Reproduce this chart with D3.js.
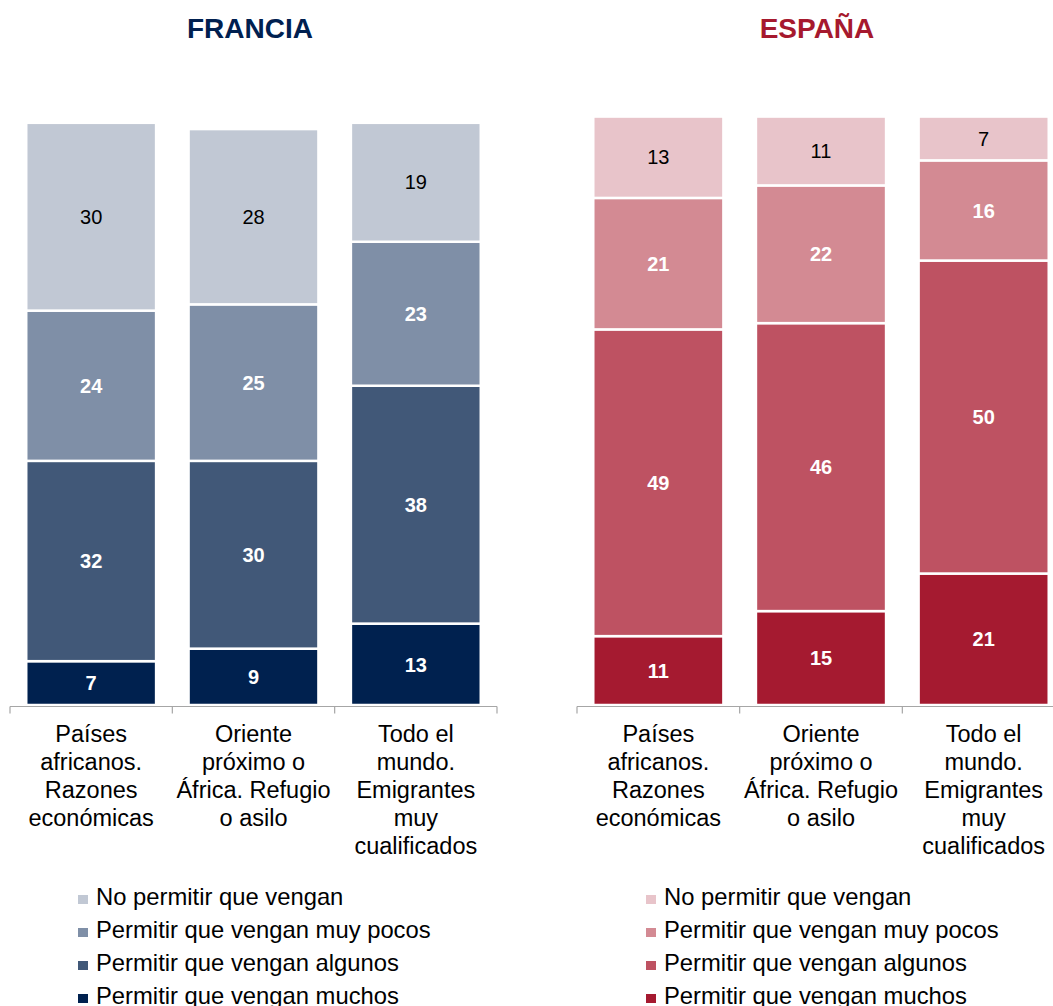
<!DOCTYPE html>
<html>
<head>
<meta charset="utf-8">
<script src="https://cdn.jsdelivr.net/npm/d3@7"></script>
<style>
  html, body { margin: 0; padding: 0; background: #fff; }
  svg { display: block; font-family: "Liberation Sans", Arial, sans-serif; }
</style>
</head>
<body>
<svg id="chart" width="1053" height="1006"></svg>
<script>
// Categories (multi-line axis labels)
const categories = ["africa_econ", "oriente_asilo", "mundo_cualif"];
const categoryLines = [
  ["Países", "africanos.", "Razones", "económicas"],
  ["Oriente", "próximo o", "África. Refugio", "o asilo"],
  ["Todo el", "mundo.", "Emigrantes", "muy", "cualificados"]
];

// Series, stacked from the bottom up
const seriesNames = [
  "Permitir que vengan muchos",
  "Permitir que vengan algunos",
  "Permitir que vengan muy pocos",
  "No permitir que vengan"
];

// Francia: percentages per series, one value per category
const franciaMuchos   = [7, 9, 13];
const franciaAlgunos  = [32, 30, 38];
const franciaMuyPocos = [24, 25, 23];
const franciaNo       = [30, 28, 19];

// España
const espanaMuchos   = [11, 15, 21];
const espanaAlgunos  = [49, 46, 50];
const espanaMuyPocos = [21, 22, 16];
const espanaNo       = [13, 11, 7];

const panels = [
  {
    title: "FRANCIA",
    titleColor: "#002050",
    series: [franciaMuchos, franciaAlgunos, franciaMuyPocos, franciaNo],
    colors: ["#00214f", "#415878", "#7f8fa7", "#c1c8d4"],
    labelColors: ["#fff", "#fff", "#fff", "#000"],
    labelWeights: ["bold", "bold", "bold", "normal"],
    x0: 10, x1: 497, titleX: 250, legendX: 78
  },
  {
    title: "ESPAÑA",
    titleColor: "#a6192e",
    series: [espanaMuchos, espanaAlgunos, espanaMuyPocos, espanaNo],
    colors: ["#a51a30", "#be5262", "#d38a93", "#e8c4ca"],
    labelColors: ["#fff", "#fff", "#fff", "#000"],
    labelWeights: ["bold", "bold", "bold", "normal"],
    x0: 577, x1: 1065, titleX: 817, legendX: 646
  }
];

const svg = d3.select("#chart");
const baseY = 705;
const y = d3.scaleLinear().domain([0, 100]).range([baseY, 79]);

panels.forEach(p => {
  const g = svg.append("g");

  // Title
  g.append("text")
    .attr("x", p.titleX).attr("y", 38)
    .attr("text-anchor", "middle")
    .attr("font-size", 28).attr("font-weight", "bold")
    .attr("fill", p.titleColor)
    .text(p.title);

  const x = d3.scaleBand()
    .domain(categories)
    .range([p.x0, p.x1])
    .paddingInner(0.2)
    .paddingOuter(0.1);

  // Build stacked rows
  const rows = categories.map((c, i) => {
    const r = { cat: c };
    seriesNames.forEach((s, k) => { r[s] = p.series[k][i]; });
    return r;
  });
  const stacked = d3.stack().keys(seriesNames)(rows);

  stacked.forEach((layer, k) => {
    const lg = g.append("g");
    lg.selectAll("rect")
      .data(layer)
      .join("rect")
      .attr("x", d => x(d.data.cat))
      .attr("width", x.bandwidth())
      .attr("y", d => y(d[1]))
      .attr("height", d => y(d[0]) - y(d[1]))
      .attr("fill", p.colors[k])
      .attr("stroke", "#fff")
      .attr("stroke-width", 2.5);

    lg.selectAll("text")
      .data(layer)
      .join("text")
      .attr("x", d => x(d.data.cat) + x.bandwidth() / 2)
      .attr("y", d => (y(d[0]) + y(d[1])) / 2)
      .attr("dy", "0.36em")
      .attr("text-anchor", "middle")
      .attr("font-size", 20)
      .attr("font-weight", p.labelWeights[k])
      .attr("fill", p.labelColors[k])
      .text(d => d.data[seriesNames[k]]);
  });

  // Category axis: baseline plus ticks at category boundaries
  const axisY = baseY + 1.5;
  g.append("line")
    .attr("x1", p.x0).attr("x2", p.x1)
    .attr("y1", axisY).attr("y2", axisY)
    .attr("stroke", "#a6a6a6").attr("stroke-width", 1.2);
  const bounds = [p.x0].concat(categories.map(c => x(c) - x.step() * x.paddingInner() / 2 + x.step()));
  g.selectAll(".tick")
    .data(bounds)
    .join("line")
    .attr("x1", d => d).attr("x2", d => d)
    .attr("y1", axisY).attr("y2", axisY + 7)
    .attr("stroke", "#a6a6a6").attr("stroke-width", 1.2);

  // Category labels
  categories.forEach((c, i) => {
    const t = g.append("text")
      .attr("text-anchor", "middle")
      .attr("font-size", 23.5)
      .attr("fill", "#000");
    categoryLines[i].forEach((line, j) => {
      t.append("tspan")
        .attr("x", x(c) + x.bandwidth() / 2)
        .attr("y", 742 + j * 28)
        .text(line);
    });
  });

  // Legend, top entry is the last stacked series
  const legendOrder = seriesNames.map((s, k) => k).reverse();
  legendOrder.forEach((k, j) => {
    const ly = 905 + j * 33;
    g.append("rect")
      .attr("x", p.legendX).attr("y", ly - 10)
      .attr("width", 10).attr("height", 9)
      .attr("fill", p.colors[k]);
    g.append("text")
      .attr("x", p.legendX + 18).attr("y", ly)
      .attr("font-size", 23.8)
      .attr("fill", "#000")
      .text(seriesNames[k]);
  });
});
</script>
</body>
</html>
